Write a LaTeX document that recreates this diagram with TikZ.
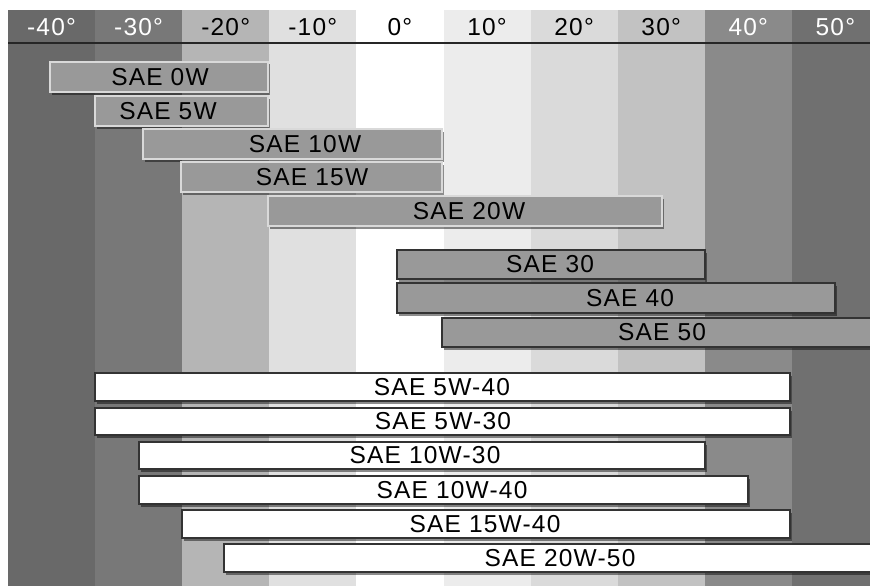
\documentclass[tikz,border=0pt]{standalone}
\usepackage{fontspec}
\setmainfont{Liberation Sans}[LetterSpace=5]
\usetikzlibrary{shadows}

\begin{document}
\begin{tikzpicture}[x=1pt, y=-1pt,
    txt/.style={font=\fontsize{24.5}{27}\selectfont, inner sep=0pt},
    barshadow/.style={drop shadow={shadow xshift=1.5pt, shadow yshift=-2.5pt, opacity=0.45, fill=black}},
    wbar/.style={fill=black!40, draw=white!85!black, line width=1.2pt, barshadow},
    sbar/.style={fill=black!40, draw=black!80, line width=1.2pt, barshadow},
    mbar/.style={fill=white, draw=black!80, line width=1.5pt, barshadow}]
    \useasboundingbox (0,0) rectangle (870,586);
    \clip (0,0) rectangle (870,586);

    % Draw temperature columns and header
    \foreach \t/\d/\tc [count=\i from 0] in {-40/59/white, -30/53/white, -20/29/black, -10/12/black, 0/0/black, 10/7.5/black, 20/14.5/black, 30/24/black, 40/46/white, 50/56/white} {
        \fill[black!\d] (8+87.1*\i,10) rectangle (95.1+87.1*\i,586);
        \node[txt, text=\tc] (h\i) at (51.5+87.1*\i,27) {\t°};
    }
    \draw[line width=1.5pt, black!85] (8,43) -- (870,43);

    % Draw winter grades
    \draw[wbar] (50,62) rectangle (268,92);
    \node[txt] (w0) at (160,77) {SAE 0W};
    \draw[wbar] (95,96) rectangle (268,126);
    \node[txt] (w5) at (168,111) {SAE 5W};
    \draw[wbar] (143,129) rectangle (442,159);
    \node[txt] (w10) at (305,144) {SAE 10W};
    \draw[wbar] (181,162) rectangle (442,192);
    \node[txt] (w15) at (312,177) {SAE 15W};
    \draw[wbar] (268,196) rectangle (662,226);
    \node[txt] (w20) at (469,211) {SAE 20W};

    % Draw summer grades
    \draw[sbar] (397,250) rectangle (705,279);
    \node[txt] (s30) at (550,264.5) {SAE 30};
    \draw[sbar] (397,283) rectangle (835,313);
    \node[txt] (s40) at (630,298) {SAE 40};
    \draw[sbar] (442,318) rectangle (880,347);
    \node[txt] (s50) at (662,332.5) {SAE 50};

    % Draw multigrades
    \draw[mbar] (95,373) rectangle (790,401);
    \node[txt] (m5w40) at (442,387) {SAE 5W-40};
    \draw[mbar] (95,408) rectangle (790,435);
    \node[txt] (m5w30) at (443,421.5) {SAE 5W-30};
    \draw[mbar] (139,442) rectangle (705,469);
    \node[txt] (m10w30) at (425,455.5) {SAE 10W-30};
    \draw[mbar] (139,476) rectangle (748,504);
    \node[txt] (m10w40) at (452,490) {SAE 10W-40};
    \draw[mbar] (182,510) rectangle (790,538);
    \node[txt] (m15w40) at (485,524) {SAE 15W-40};
    \draw[mbar] (224,544) rectangle (880,572);
    \node[txt] (m20w50) at (560,558) {SAE 20W-50};
\end{tikzpicture}
\end{document}
